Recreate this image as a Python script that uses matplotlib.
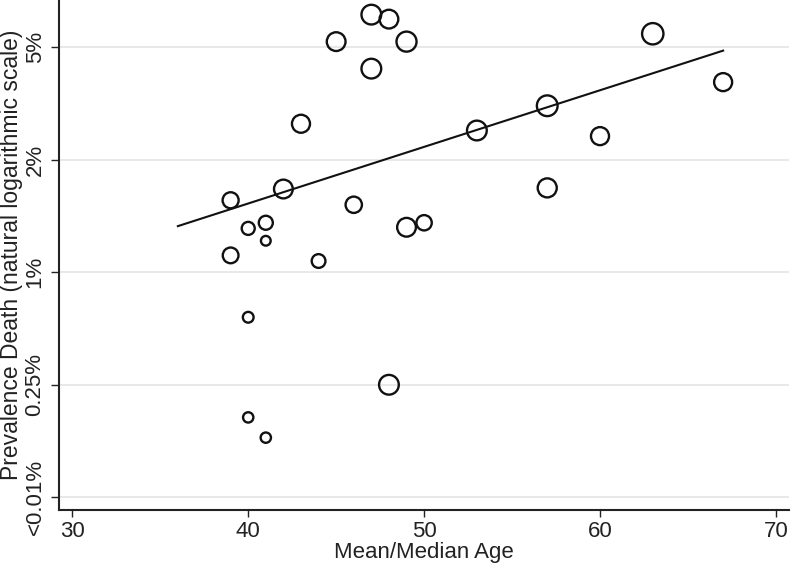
import matplotlib
matplotlib.use("Agg")
import matplotlib.pyplot as plt
import numpy as np

# mean/median age of each study
age = [39, 40, 41, 41, 39, 42, 43, 44, 45, 46, 47, 48, 47, 49, 49, 50,
       53, 57, 57, 60, 63, 67, 40, 48, 40, 41]
# prevalence of death, in axis units (0 = <0.01%, 1 = 0.25%, 2 = 1%, 3 = 2%, 4 = 5%)
prev = [2.64, 2.39, 2.44, 2.28, 2.15, 2.74, 3.32, 2.10, 4.05, 2.60, 4.29, 4.25,
        3.81, 4.05, 2.40, 2.44, 3.26, 3.48, 2.75, 3.21, 4.12, 3.69, 1.60, 1.00,
        0.71, 0.53]
# study weights (bubble size)
weight = [256, 169, 196, 94, 246, 350, 324, 188, 350, 266, 388, 350, 388, 400,
          350, 234, 388, 428, 361, 324, 454, 324, 115, 388, 106, 106]

# fitted line end points
fit_x = [36.0, 67.0]
fit_y = [2.41, 3.97]

ytick_pos = [0, 1, 2, 3, 4]
ytick_lab = ["<0.01%", "0.25%", "1%", "2%", "5%"]
xtick_pos = [30, 40, 50, 60, 70]

plt.rcParams["font.family"] = ["Liberation Sans", "DejaVu Sans"]
txt = "#222222"

fig = plt.figure(figsize=(7.92, 5.69), dpi=100)
ax = fig.add_axes([0.0751, 0.1037, 0.921, 0.8963])

for y in ytick_pos:
    ax.axhline(y, color="#e6e6e6", lw=1.3, zorder=0)

ax.scatter(age, prev, s=np.array(weight) * 0.52, facecolors="none",
           edgecolors="#111111", linewidths=1.7, zorder=3)
ax.plot(fit_x, fit_y, color="#111111", lw=1.5, zorder=2)

ax.set_xlim(29.27, 70.74)
ax.set_ylim(-0.113, 4.42)
ax.set_xticks(xtick_pos)
ax.set_yticks(ytick_pos)
ax.set_yticklabels(ytick_lab, rotation=90, va="center")

for s in ["top", "right"]:
    ax.spines[s].set_visible(False)
for s in ["left", "bottom"]:
    ax.spines[s].set_linewidth(1.5)
    ax.spines[s].set_color("#222222")

ax.tick_params(axis="both", labelsize=16, colors=txt, length=5, width=1.0)
ax.tick_params(axis="x", pad=3)
ax.tick_params(axis="y", pad=4, length=6)

ax.set_xlabel("Mean/Median Age", fontsize=16, color=txt, labelpad=0)
ax.set_ylabel("Prevalence Death (natural logarithmic scale)", fontsize=16.5,
              color=txt, labelpad=1)

fig.savefig("out.png", dpi=100)
